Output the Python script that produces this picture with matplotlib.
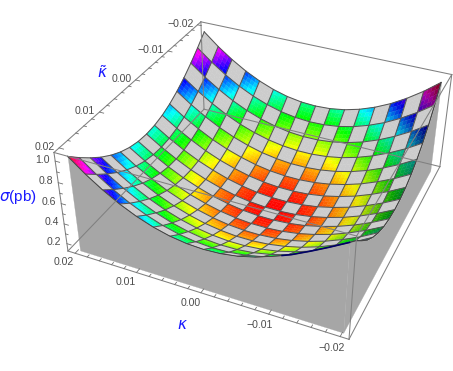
import numpy as np
import matplotlib
matplotlib.use('Agg')
import matplotlib.pyplot as plt
from matplotlib.colors import hsv_to_rgb
from matplotlib.transforms import offset_copy
from mpl_toolkits.mplot3d import proj3d
from mpl_toolkits.mplot3d.art3d import Poly3DCollection

# ---- data ----
kappa = [-0.02, -0.0175, -0.015, -0.0125, -0.01, -0.0075, -0.005, -0.0025, 0.0,
         0.0025, 0.005, 0.0075, 0.01, 0.0125, 0.015, 0.0175, 0.02]
kappa_tilde = list(kappa)
sigma_pb = [
 [1.020,.898,.793,.703,.630,.573,.532,.508,.500,.508,.532,.573,.630,.703,.793,.898,1.020],
 [.875,.764,.668,.586,.521,.469,.434,.415,.410,.421,.446,.487,.543,.614,.702,.804,.921],
 [.755,.652,.564,.489,.428,.383,.351,.334,.332,.344,.371,.411,.466,.535,.620,.718,.831],
 [.656,.559,.477,.407,.351,.308,.280,.266,.265,.278,.304,.344,.397,.465,.547,.641,.750],
 [.578,.487,.409,.342,.289,.250,.224,.211,.211,.225,.250,.290,.341,.406,.485,.577,.682],
 [.519,.431,.357,.293,.243,.205,.180,.168,.169,.182,.208,.247,.297,.359,.437,.525,.627],
 [.477,.392,.320,.258,.210,.173,.149,.138,.139,.152,.177,.215,.264,.326,.402,.488,.587],
 [.453,.370,.298,.238,.191,.154,.131,.120,.121,.134,.159,.196,.246,.306,.380,.466,.563],
 [.445,.362,.291,.231,.184,.148,.125,.114,.115,.128,.153,.190,.239,.299,.373,.458,.555],
 [.453,.370,.298,.238,.191,.154,.131,.120,.121,.134,.159,.196,.246,.306,.380,.466,.563],
 [.477,.392,.320,.258,.210,.173,.149,.138,.139,.152,.177,.215,.264,.326,.402,.488,.587],
 [.519,.431,.357,.293,.243,.205,.180,.168,.169,.182,.208,.247,.297,.359,.437,.525,.627],
 [.578,.487,.409,.342,.289,.250,.224,.211,.211,.225,.250,.290,.341,.406,.485,.577,.682],
 [.656,.559,.477,.407,.351,.308,.280,.266,.265,.278,.304,.344,.397,.465,.547,.641,.750],
 [.755,.652,.564,.489,.428,.383,.351,.334,.332,.344,.371,.411,.466,.535,.620,.718,.831],
 [.860,.764,.668,.586,.521,.469,.434,.415,.410,.421,.446,.487,.543,.614,.702,.804,.921],
 [.950,.860,.775,.695,.630,.573,.532,.508,.500,.508,.532,.573,.630,.703,.793,.898,1.020],
]
xy_ticks = [0.02, 0.01, 0.00, -0.01, -0.02]
xy_labels = ['0.02', '0.01', '0.00', '\u22120.01', '\u22120.02']
z_ticks = [0.2, 0.4, 0.6, 0.8, 1.0]
z_labels = ['0.2', '0.4', '0.6', '0.8', '1.0']

plt.rcParams['font.family'] = ['Liberation Sans', 'DejaVu Sans']
W, H = 453, 371
fig = plt.figure(figsize=(W/100, H/100), dpi=100)
cx, cy, s = 259.84, 165.80, 413.37
ax = fig.add_axes([(cx-s/2)/W, (H-cy-s/2)/H, s/W, s/H], projection='3d')
XL, ZLO, ZHI = 0.0212, 0.124, 1.078
ax.set_xlim(-XL, XL); ax.set_ylim(-XL, XL); ax.set_zlim(ZLO, ZHI)
ax.set_box_aspect((1, 1, 0.398))
ax.view_init(elev=34.44, azim=113.91, roll=-0.336)
ax.set_proj_type('persp', focal_length=0.436)
ax.set_xticks([]); ax.set_yticks([]); ax.set_zticks([])
ax.set_axis_off()
ax.computed_zorder = False

# surface, each mesh cell split for a smooth colour gradient
k = np.array(kappa); kt = np.array(kappa_tilde); Z0 = np.array(sigma_pb)
NS = 4
ix = np.arange(0, (len(k)-1)*NS+1)/NS
xf = np.interp(ix, np.arange(len(k)), k); yf = np.interp(ix, np.arange(len(kt)), kt)
Zr = np.array([np.interp(ix, np.arange(len(kt)), Z0[:, c]) for c in range(len(k))]).T
Zf = np.array([np.interp(ix, np.arange(len(k)), r) for r in Zr])
X, Y = np.meshgrid(xf, yf)
zc = (Zf[:-1, :-1]+Zf[1:, :-1]+Zf[:-1, 1:]+Zf[1:, 1:])/4
xc = (X[:-1, :-1]+X[:-1, 1:])/2
hue = 0.98*(zc-Z0.min())/(Z0.max()-Z0.min())
val = 1-0.5*np.clip(-xc/0.02, 0, 1)**4
rgb = hsv_to_rgb(np.dstack([hue, np.ones_like(hue), val]))
jj, ii = np.indices(hue.shape)
checker = ((jj//NS + ii//NS) % 2) == 0
rgb[~checker] = (0.80, 0.80, 0.80)
ax.plot_surface(X, Y, Zf, facecolors=rgb, rstride=1, cstride=1, shade=False,
                linewidth=0.25, antialiased=True, zorder=1)
# mesh lines
MESH = dict(color='#555555', lw=0.75, zorder=2)
for j in range(len(kt)):
    ax.plot(xf, np.full_like(xf, kt[j]), Zf[j*NS, :], **MESH)
for i in range(len(k)):
    ax.plot(np.full_like(yf, k[i]), yf, Zf[:, i*NS], **MESH)

# grey filling below the two front edges
wall = '#a6a6a6'
zb = Z0.min()-0.012
v1 = [(a, kt[-1], b) for a, b in zip(xf, Zf[-1, :])] + [(k[-1], kt[-1], zb), (k[0], kt[-1], zb)]
v2 = [(k[0], a, b) for a, b in zip(yf, Zf[:, 0])] + [(k[0], kt[-1], zb), (k[0], kt[0], zb)]
for v in (v1, v2):
    pc = Poly3DCollection([v], facecolors=wall, edgecolors=wall, linewidths=0.2, zorder=3)
    ax.add_collection3d(pc)
ax.plot(xf, np.full_like(xf, kt[-1]), Zf[-1, :], color='#404040', lw=0.6, zorder=3.2)
ax.plot(np.full_like(yf, k[0]), yf, Zf[:, 0], color='#404040', lw=0.6, zorder=3.2)
near = xf <= -0.011
ax.plot(xf[near], np.full(near.sum(), kt[-1]), Zf[-1, near], color='#000066', lw=1.2, zorder=3.3)

# box
BOX = dict(color='#808080', lw=0.75, zorder=4)
for a in (-XL, XL):
    for zz in (ZLO, ZHI):
        ax.plot([-XL, XL], [a, a], [zz, zz], **BOX)
        ax.plot([a, a], [-XL, XL], [zz, zz], **BOX)
    for b in (-XL, XL):
        ax.plot([a, a], [b, b], [ZLO, ZHI], **BOX)

# ticks
TK = dict(color='#707070', lw=0.6, zorder=4)
for n in range(-10, 11):
    t = n*0.002
    ln = 1.0 if n % 5 == 0 else 0.6
    ax.plot([t, t], [XL, XL-0.00085*ln], [ZLO, ZLO], **TK)
    ax.plot([XL, XL-0.0007*ln], [t, t], [ZHI, ZHI], **TK)
for n in range(2, 11):
    t = n*0.1
    ln = 1.0 if n % 2 == 0 else 0.6
    ax.plot([XL, XL-0.0007*ln], [XL, XL], [t, t], **TK)

# tick labels, placed at their projected 3D anchors
M = ax.get_proj()
def label3d(x, y, z, lab, ha, dx=0, dy=0):
    px, py, _ = proj3d.proj_transform(x, y, z, M)
    tr = offset_copy(ax.transData, fig=fig, x=dx, y=dy, units='dots')
    ax.text2D(float(px), float(py), lab, transform=tr, fontsize=7.6, color='#4d4d4d',
              ha=ha, va='center', zorder=5)
for t, lab in zip(xy_ticks, xy_labels):
    label3d(t, XL+0.0024, ZLO, lab, 'center', dx=-2, dy=1)
    label3d(XL+0.0007, t, ZHI, lab, 'right')
for t, lab in zip(z_ticks, z_labels):
    label3d(XL+0.0009, XL, t, lab, 'right')

# axis titles
blue = '#1a1aff'
ax.text2D(18/W, 1-197/H, r'$\sigma$(pb)', transform=fig.transFigure, color=blue,
          fontsize=11, ha='center', va='center')
ax.text2D(182/W, 1-325/H, r'$\kappa$', transform=fig.transFigure, color=blue,
          fontsize=11, ha='center', va='center')
ax.text2D(102/W, 1-73/H, r'$\tilde{\kappa}$', transform=fig.transFigure, color=blue,
          fontsize=11, ha='center', va='center')

fig.savefig('out.png', dpi=100)
